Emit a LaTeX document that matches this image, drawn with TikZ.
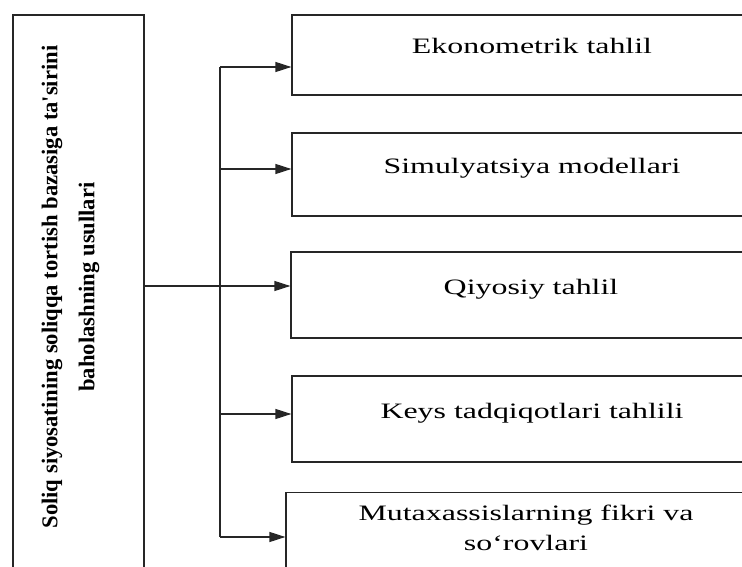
\documentclass[tikz,border=0pt]{standalone}
\usepackage{fontspec}
\setmainfont{Liberation Serif}
\newfontfamily\wideserif[FakeStretch=1.45]{Liberation Serif}
\usepackage{graphicx}
\usetikzlibrary{arrows.meta}

\begin{document}
\begin{tikzpicture}[x=1pt,y=-1pt,line width=1.2pt]
	\tikzstyle{box}=[draw=black!85,rectangle,minimum width=480pt,inner sep=0pt,font=\wideserif\fontsize{22pt}{30pt}\selectfont,align=center]
	\tikzstyle{arr}=[-{Triangle[length=16pt,width=10pt]}]
	\useasboundingbox (0,0) rectangle (742,567);
	\clip (0,0) rectangle (742,567);
	% left box with rotated title
	\node[draw=black!85,minimum width=131pt,minimum height=625pt,inner sep=0pt,text depth=81pt] (lb) at (78.5,327.5) {\rotatebox{90}{\fontsize{22.6pt}{37pt}\selectfont\bfseries\begin{tabular}{@{}c@{}}Soliq siyosatining soliqqa tortish bazasiga ta\textquotesingle sirini\\baholashning usullari\end{tabular}}\hspace*{20pt}};
	% methods
	\node[box,minimum height=80pt,text height=15pt,text depth=17pt] (b1) at (532,55) {Ekonometrik tahlil};
	\node[box,minimum height=83pt,text height=15pt,text depth=17pt] (b2) at (532,174.5) {Simulyatsiya modellari};
	\node[box,minimum height=86pt,text height=15pt,text depth=17pt] (b3) at (531,295) {Qiyosiy tahlil};
	\node[box,minimum height=86pt,text height=15pt,text depth=17pt] (b4) at (532,419) {Keys tadqiqotlari tahlili};
	\node[box,anchor=north,inner ysep=43.3pt,text height=15pt,text depth=90pt] (b5) at (526,492) {Mutaxassislarning fikri va\\so‘rovlari};
	% bus
	\coordinate (j1) at (220,67);
	\coordinate (j2) at (220,169);
	\coordinate (j3) at (220,286);
	\coordinate (j4) at (220,414);
	\coordinate (j5) at (220,537);
	\draw[black!85] (j1) -- (j5);
	\draw[arr,black!85] (lb.east |- j3) -- (j3 -| b3.west);
	\draw[arr,black!85] (j1) -- (j1 -| b1.west);
	\draw[arr,black!85] (j2) -- (j2 -| b2.west);
	\draw[arr,black!85] (j4) -- (j4 -| b4.west);
	\draw[arr,black!85] (j5) -- (j5 -| b5.west);
\end{tikzpicture}
\end{document}
